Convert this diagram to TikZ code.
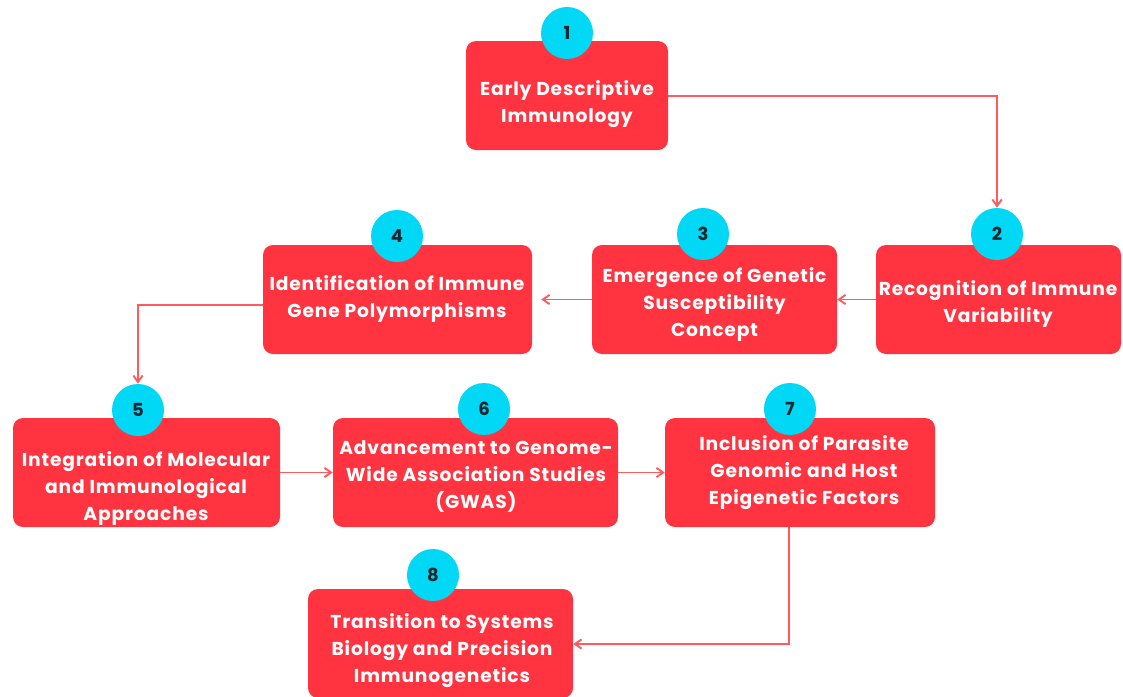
\documentclass[tikz,border=0pt]{standalone}
\usepackage{fontspec}
\setmainfont{Poppins}
\newfontfamily\boxfont{Poppins}[LetterSpace=4.5]
\usetikzlibrary{arrows.meta,fit}
\definecolor{boxred}{HTML}{FF3440}
\definecolor{numcyan}{HTML}{00D8F6}
\definecolor{arrred}{HTML}{FF5A5C}
\definecolor{numdark}{HTML}{1B2730}
\tikzset{
  box/.style={fill=boxred, rounded corners=7.5pt, inner sep=0pt, draw=none},
  num/.style={circle, fill=numcyan, minimum size=39pt, inner sep=0pt,
    text=numdark, font=\fontsize{13.5pt}{15pt}\selectfont\bfseries},
  txt/.style={text=white, align=center, inner sep=0pt,
    font=\boxfont\fontsize{14pt}{20.25pt}\selectfont\bfseries},
  arr/.style={draw=arrred, line width=1.4pt, -{Straight Barb[length=5pt,width=7pt]}}
}
\begin{document}
\begin{tikzpicture}[x=0.75pt,y=-0.75pt]
\useasboundingbox (0,0) rectangle (1123,696);
\fill[white] (0,0) rectangle (1123,696);
% helper coordinates
\coordinate (y96) at (0,96);
\coordinate (y305) at (0,305);
\coordinate (y644) at (0,644);
\coordinate (x789) at (789,0);
\coordinate (x997) at (997,0);
\coordinate (x138) at (138,0);
% boxes
\node[box, fit={(466,41) (668,150)}] (b1) {};
\node[box, fit={(876,245) (1121,354)}] (b2) {};
\node[box, fit={(592,245) (837,354)}] (b3) {};
\node[box, fit={(263,245) (532,354)}] (b4) {};
\node[box, fit={(13,418) (280,527)}] (b5) {};
\node[box, fit={(333,418) (618,527)}] (b6) {};
\node[box, fit={(665,418) (935,527)}] (b7) {};
\node[box, fit={(308,589) (573,698)}] (b8) {};
% texts
\node[txt] (t1) at (567,104) {Early Descriptive\\Immunology};
\node[txt] (t2) at (998,304) {Recognition of Immune\\Variability};
\node[txt] (t3) at (714.5,305) {Emergence of Genetic\\Susceptibility\\Concept};
\node[txt] (t4) at (397,299) {Identification of Immune\\Gene Polymorphisms};
\node[txt] (t5) at (146,488) {Integration of Molecular\\and Immunological\\Approaches};
\node[txt] (t6) at (476,477) {Advancement to Genome-\\Wide Association Studies\\(GWAS)};
\node[txt] (t7) at (804,473) {Inclusion of Parasite\\Genomic and Host\\Epigenetic Factors};
\node[txt] (t8) at (442,651) {Transition to Systems\\Biology and Precision\\Immunogenetics};
% numbered circles
\node[num] (c1) at (567,33) {1};
\node[num] (c2) at (997,234) {2};
\node[num] (c3) at (703,234) {3};
\node[num] (c4) at (397,236) {4};
\node[num] (c5) at (138,410) {5};
\node[num] (c6) at (484,409) {6};
\node[num] (c7) at (790,409) {7};
\node[num] (c8) at (433,575) {8};
% connectors
\draw[arr] (b1.east |- y96) -- (x997 |- y96) -- (c2.north);
\draw[arr] (b2.west) -- (b3.east);
\draw[arr, shorten >=6.75pt] (b3.west) -- (b4.east);
\draw[arr] (b4.west |- y305) -- (x138 |- y305) -- (c5.north);
\draw[arr] (b5.east) -- (b6.west);
\draw[arr] (b6.east) -- (b7.west);
\draw[arr] (x789 |- b7.south) -- (x789 |- y644) -- (b8.east |- y644);
\end{tikzpicture}
\end{document}
